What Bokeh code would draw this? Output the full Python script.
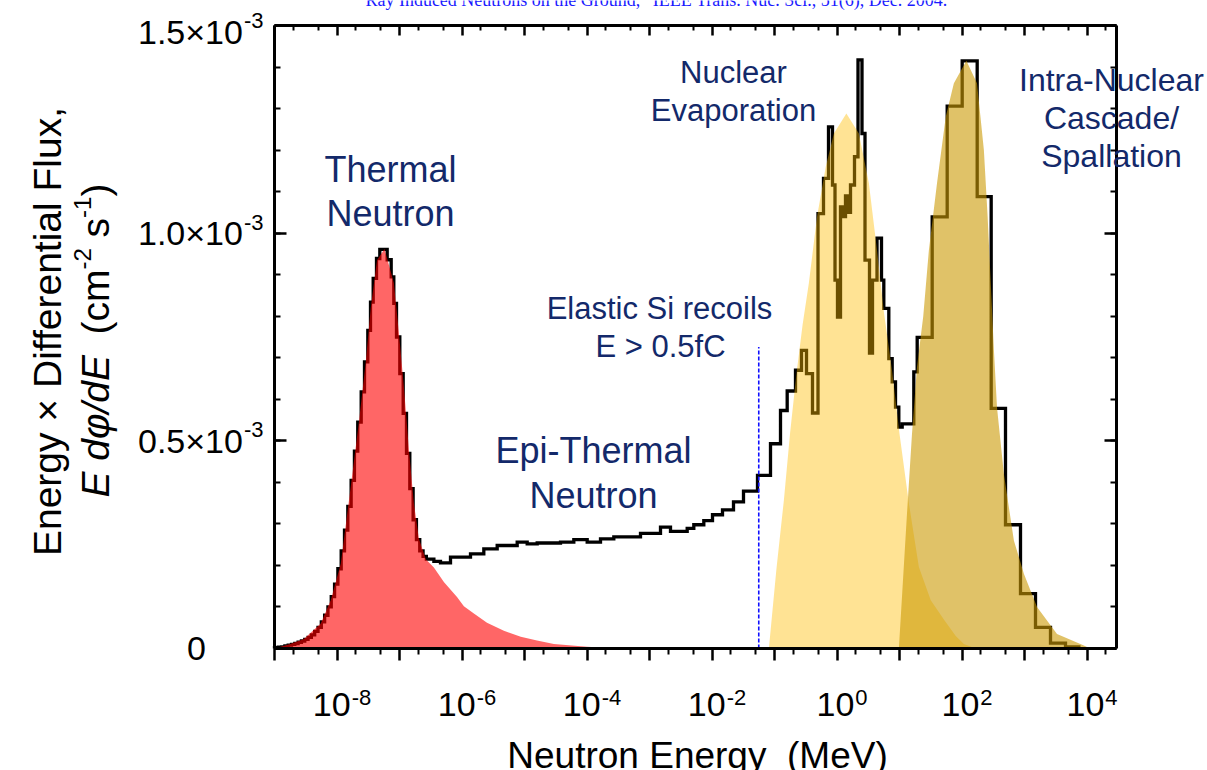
import math
import numpy as np
from bokeh.plotting import figure
from bokeh.models import Range1d, FixedTicker, LogAxis, LinearAxis, Label, CustomJSTickFormatter
from bokeh.embed import file_html
from bokeh.resources import INLINE

# ---------------- data (energies as log10(MeV), fluxes in units of 1e-3 cm^-2 s^-1) -------------
step_log10_edges = [
    -9.000, -8.940, -8.887, -8.834, -8.781, -8.728, -8.675, -8.622, -8.569, -8.516,
    -8.463, -8.410, -8.357, -8.304, -8.251, -8.198, -8.145, -8.092, -8.039, -7.986,
    -7.933, -7.880, -7.827, -7.774, -7.721, -7.668, -7.613, -7.560, -7.507, -7.464,
    -7.421, -7.368, -7.315, -7.197, -7.133, -7.091, -7.048, -6.995, -6.941, -6.888,
    -6.835, -6.782, -6.729, -6.676, -6.623, -6.570, -6.450, -6.344, -6.184, -5.864,
    -5.651, -5.437, -5.117, -4.957, -4.797, -4.424, -4.211, -3.997, -3.784, -3.571,
    -3.144, -2.824, -2.664, -2.397, -2.291, -2.131, -1.992, -1.832, -1.656, -1.496,
    -1.272, -1.064, -0.904, -0.797, -0.664, -0.568, -0.488, -0.392, -0.304, -0.216,
    -0.136, -0.072, -0.032, 0.008, 0.056, 0.104, 0.136, 0.168, 0.216, 0.280,
    0.336, 0.400, 0.448, 0.520, 0.568, 0.640, 0.712, 0.749, 0.829, 0.883,
    0.936, 0.989, 1.043, 1.229, 1.283, 1.523, 1.763, 2.003, 2.243, 2.467,
    2.696, 2.936, 3.176, 3.416, 3.656, 3.896]
step_flux = [
    0.002, 0.003, 0.004, 0.006, 0.008, 0.010, 0.012, 0.015, 0.018, 0.022,
    0.027, 0.033, 0.041, 0.051, 0.064, 0.080, 0.100, 0.125, 0.155, 0.192,
    0.235, 0.285, 0.342, 0.405, 0.475, 0.545, 0.618, 0.690, 0.766, 0.834,
    0.891, 0.939, 0.961, 0.936, 0.895, 0.831, 0.750, 0.662, 0.566, 0.470,
    0.385, 0.310, 0.262, 0.235, 0.222, 0.215, 0.210, 0.206, 0.220, 0.228,
    0.240, 0.248, 0.256, 0.252, 0.254, 0.256, 0.262, 0.256, 0.264, 0.269,
    0.277, 0.292, 0.282, 0.289, 0.298, 0.308, 0.322, 0.334, 0.353, 0.379,
    0.417, 0.493, 0.573, 0.620, 0.670, 0.718, 0.662, 0.567, 1.047, 1.132,
    1.256, 1.116, 0.887, 0.798, 1.063, 1.040, 1.090, 1.050, 1.116, 1.184,
    1.417, 1.240, 0.935, 0.711, 0.887, 0.988, 0.887, 0.819, 0.698, 0.642,
    0.581, 0.533, 0.541, 0.666, 0.749, 1.039, 1.306, 1.415, 1.088, 0.578,
    0.298, 0.132, 0.051, 0.013, 0.004]

thermal_log10_e = [-9.00, -8.75, -8.53, -8.26, -8.10, -7.94, -7.78, -7.65, -7.54, -7.46,
                   -7.36, -7.24, -7.09, -7.01, -6.93, -6.85, -6.77, -6.69, -6.58, -6.45,
                   -6.29, -6.08, -5.97, -5.81, -5.60, -5.33, -5.06, -4.80, -4.53, -4.00, -3.50]
thermal_fit = [0.000, 0.011, 0.023, 0.060, 0.116, 0.204, 0.390, 0.545, 0.690, 0.820,
               0.935, 0.962, 0.880, 0.760, 0.630, 0.480, 0.350, 0.265, 0.215, 0.195,
               0.160, 0.124, 0.102, 0.084, 0.062, 0.043, 0.028, 0.019, 0.011, 0.004, 0.000]

evap_log10_e = [-1.09, -0.97, -0.85, -0.75, -0.65, -0.55, -0.45, -0.32, -0.18, -0.05,
                0.15, 0.35, 0.51, 0.64, 0.75, 0.88, 1.00, 1.15, 1.31, 1.50,
                1.71, 1.90, 2.03, 2.22]
evap_fit = [0.000, 0.190, 0.357, 0.520, 0.660, 0.780, 0.880, 1.039, 1.160, 1.240,
            1.288, 1.240, 1.120, 0.959, 0.810, 0.670, 0.517, 0.350, 0.196, 0.116,
            0.070, 0.030, 0.011, 0.000]

casc_log10_e = [0.99, 1.12, 1.20, 1.28, 1.38, 1.47, 1.60, 1.74, 1.87, 2.07,
                2.24, 2.35, 2.41, 2.46, 2.51, 2.56, 2.67, 2.83, 2.99, 3.20,
                3.52, 3.95, 4.05]
casc_fit = [0.000, 0.325, 0.517, 0.678, 0.800, 0.959, 1.120, 1.280, 1.361, 1.415,
            1.361, 1.200, 1.040, 0.880, 0.720, 0.580, 0.420, 0.260, 0.180, 0.100,
            0.035, 0.007, 0.000]

recoil_threshold_mev = 0.056
recoil_line_top = 0.726   # 1e-3 units

x_major_exp = list(range(-9, 5))
x_label_exp = [-8, -6, -4, -2, 0, 2, 4]
y_major = [0.0, 0.5, 1.0, 1.5]
y_labels = ["0", "0.5\u00d710", "1.0\u00d710", "1.5\u00d710"]

# ---------------- geometry ----------------
W, H = 1207, 770
FL, FR, FT, FB = 274, 1116, 25, 648
DEC = 62.5
LOG_MIN = -9.0
LOG_MAX = LOG_MIN + (FR - FL) / DEC
Y_MAX = 1.5e-3
PX_PER_Y = (FB - FT) / Y_MAX

def X(px):
    return 10 ** (LOG_MIN + (px - FL) / DEC)

def Y(py):
    return (FB - py) / PX_PER_Y

NAVY = "#13296a"
FONT = "Liberation Sans"
NB = "\u00a0"

# the frame covers the whole canvas; axes are pinned to the plot box with fixed_location
p = figure(width=W, height=H, x_axis_type="log", output_backend="svg", toolbar_location=None,
           x_range=Range1d(X(0), X(W)), y_range=Range1d(Y(H), Y(0)),
           min_border_left=0, min_border_right=0, min_border_top=0, min_border_bottom=0)
p.outline_line_color = None
p.xgrid.visible = False
p.ygrid.visible = False
p.background_fill_color = "white"
p.border_fill_color = "white"

blank = CustomJSTickFormatter(code="return ''")
XMAX = 10 ** LOG_MAX

def xticker():
    minors = [m * 10.0 ** k for k in x_major_exp for m in (2, 5) if m * 10.0 ** k <= XMAX]
    return FixedTicker(ticks=[10.0 ** k for k in x_major_exp], minor_ticks=minors)

def yticker():
    return FixedTicker(ticks=[v * 1e-3 for v in y_major], minor_ticks=[i * 1e-4 for i in range(16)])

def style_axis(ax, ticker, tin, tout, min_in, min_out, loc, bounds):
    ax.ticker = ticker
    ax.formatter = blank
    ax.fixed_location = loc
    ax.bounds = bounds
    ax.axis_line_width = 3
    ax.axis_line_color = "black"
    ax.major_tick_line_width = 2.5
    ax.minor_tick_line_width = 2
    ax.major_tick_in = tin
    ax.major_tick_out = tout
    ax.minor_tick_in = min_in
    ax.minor_tick_out = min_out
    ax.axis_label = None

XB = (10 ** LOG_MIN, XMAX)
YB = (0.0, Y_MAX)
style_axis(p.xaxis[0], xticker(), 0, 12, 0, 6, 0.0, XB)
style_axis(p.yaxis[0], yticker(), 12, 0, 6, 0, 10 ** LOG_MIN, YB)
top = LogAxis()
style_axis(top, xticker(), 10, 0, 5, 0, Y_MAX, XB)
p.add_layout(top, "above")
right = LinearAxis()
style_axis(right, yticker(), 12, 0, 6, 0, XMAX, YB)
p.add_layout(right, "right")

# ---------------- measured spectrum (step line) ----------------
edges = 10 ** np.array(step_log10_edges)
vals = np.array(step_flux) * 1e-3
sx = [edges[0]]
sy = [0.0]
for i, v in enumerate(vals):
    sx += [edges[i], edges[i + 1]]
    sy += [v, v]
p.line(sx, sy, line_color="black", line_width=3.3, line_join="miter")

# ---------------- model components (filled) ----------------
p.varea(x=10 ** np.array(thermal_log10_e), y1=0, y2=np.array(thermal_fit) * 1e-3,
        fill_color="#ff0000", fill_alpha=0.6)
p.varea(x=10 ** np.array(evap_log10_e), y1=0, y2=np.array(evap_fit) * 1e-3,
        fill_color="#ffbc00", fill_alpha=0.42)
p.varea(x=10 ** np.array(casc_log10_e), y1=0, y2=np.array(casc_fit) * 1e-3,
        fill_color="#cb9903", fill_alpha=0.6)

p.line([recoil_threshold_mev, recoil_threshold_mev], [0, recoil_line_top * 1e-3],
       line_color="#1010ff", line_width=1.6, line_dash="4 2")

# ---------------- text ----------------
AW = {' ': .278, NB: .278, 'E': .667, 'd': .556, '\u03c6': .62, '/': .278, '(': .333, ')': .333,
      'c': .5, 'm': .833, '-': .333, 's': .5, '.': .278, '\u00d7': .584}
for ch in "0123456789":
    AW[ch] = .556

def tw(s, size):
    return sum(AW.get(c, .556) for c in s) * size

def txt(text, px, py, size, color=NAVY, align="center", style="normal", angle=0.0, font=FONT):
    # (px, py): centre of the capital letters on the line's axis
    p.add_layout(Label(x=X(px), y=Y(py), x_units="data", y_units="data", text=text,
                       text_font=font, text_font_size=f"{size}px", text_color=color,
                       text_align=align, text_baseline="alphabetic", text_font_style=style,
                       angle=angle, angle_units="rad"))

# region labels
txt("Thermal", 390, 169, 36)
txt("Neutron", 390, 213, 36)
txt("Epi-Thermal", 593, 450, 36)
txt("Neutron", 593, 495, 36)
txt("Elastic Si recoils", 659, 308, 31)
txt("E > 0.5fC", 660, 346, 31)
txt("Nuclear", 733, 72, 31)
txt("Evaporation", 733, 110, 31)
txt("Intra-Nuclear", 1111, 79, 32)
txt("Cascade/", 1111, 117, 32)
txt("Spallation", 1111, 155, 32)

# citation (cut at the top edge)
txt("Ray Induced Neutrons on the Ground,\u201d IEEE Trans. Nuc. Sci., 51(6), Dec. 2004.", 656, -1, 18,
    color="#1a1aff", font="Liberation Serif")

# x tick labels
for k in x_label_exp:
    tick_px = FL + (k - LOG_MIN) * DEC
    sup = str(k)
    total = tw("10", 34) + 1 + tw(sup, 22)
    left = tick_px + 5 - total / 2
    txt("10", left, 704, 34, color="black", align="left")
    txt(sup, left + tw("10", 34) + 1, 697, 22, color="black", align="left")

# y tick labels
for v, lab in zip(y_major, y_labels):
    ty = FB - v * 1e-3 * PX_PER_Y
    if lab == "0":
        txt("0", 196, ty, 34, color="black")
    else:
        off = 6 if v == 1.5 else 0
        right_end = 263
        sx0 = right_end - tw("-3", 22)
        txt(lab, sx0 - 1, ty + off, 34, color="black", align="right")
        txt("-3", sx0, ty + off - 11, 22, color="black", align="left")

# axis titles
txt("Neutron Energy" + NB + " (MeV)", 697, 755, 37, color="black")
A = math.pi / 2
txt("Energy \u00d7 Differential Flux,", 47, 331, 39, color="black", angle=A)
py = 497
pieces = [("E d\u03c6/dE", 39, "italic", 0, 0.0), ("(cm", 39, "normal", 0, 2 * .278),
          ("-2", 24, "normal", -13, 0.0), ("s", 39, "normal", 0, .278),
          ("-1", 24, "normal", -13, 0.0), (")", 39, "normal", 0, 0.0)]
for s, size, style, dx, lead in pieces:
    py -= lead * size
    txt(s, 95 + dx, py, size, color="black", align="left", style=style, angle=A)
    py -= tw(s, size)

open("out.html", "w").write(file_html(p, INLINE))
